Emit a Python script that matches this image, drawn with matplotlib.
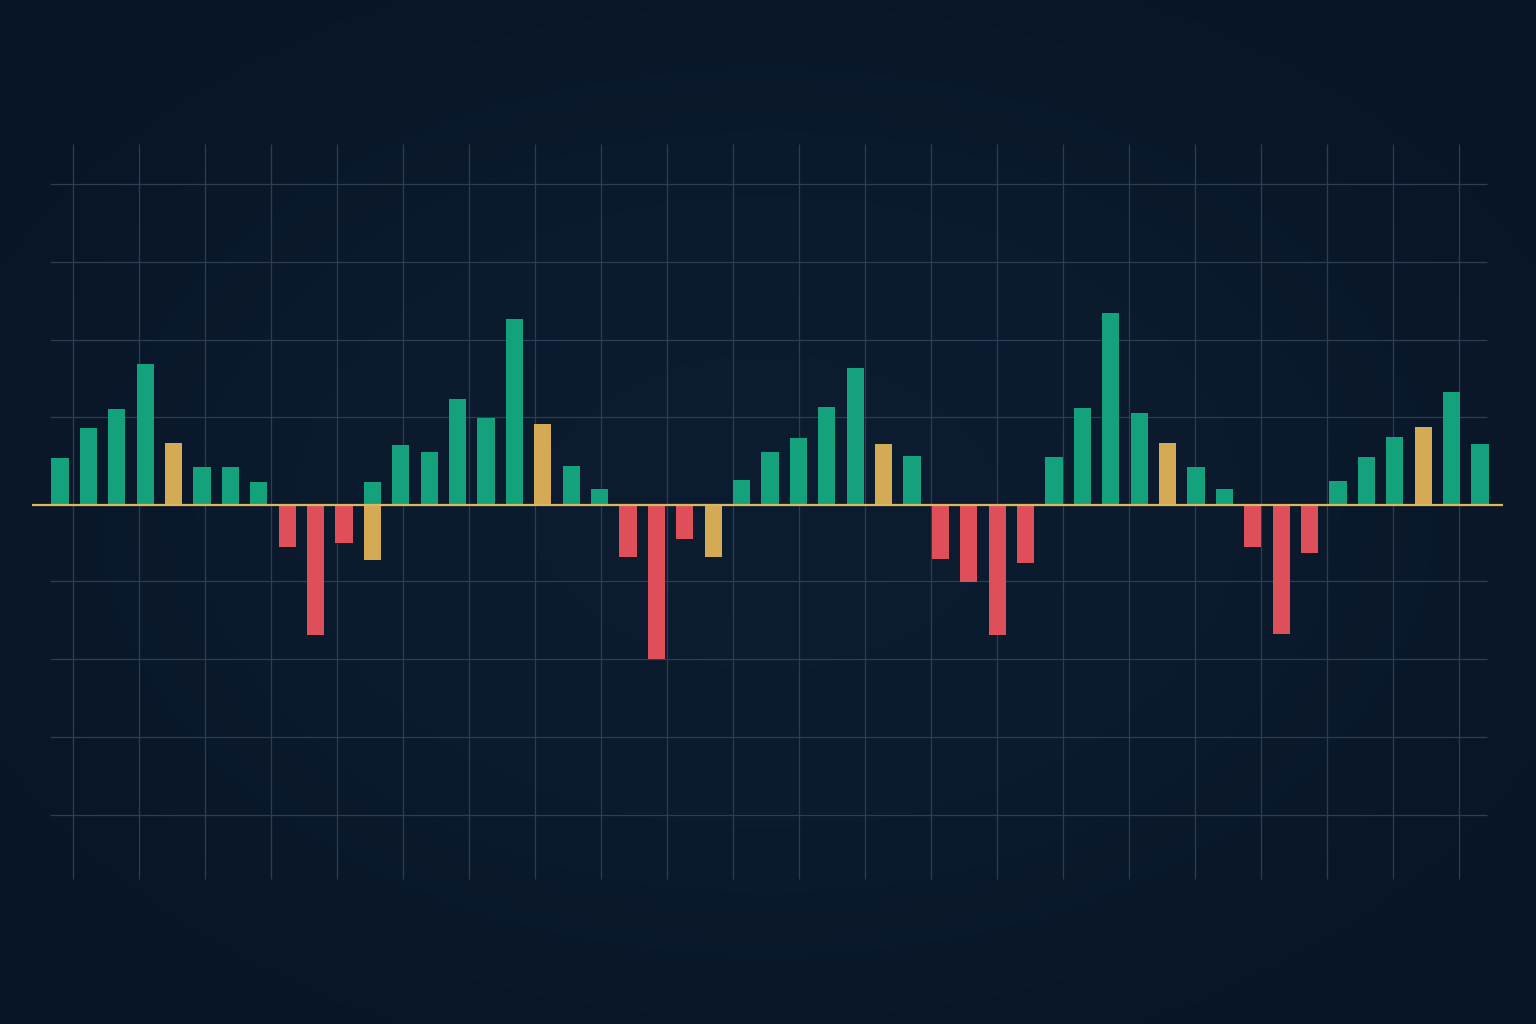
import numpy as np
import matplotlib
matplotlib.use("Agg")
import matplotlib.pyplot as plt
from matplotlib.colors import LinearSegmentedColormap

# ---- data ----
values = [6.06, 9.87, 12.35, 18.12, 7.91, 4.91, 4.91, 2.91, -5.42, -16.71,
          -4.91, 2.99, 7.73, 6.76, 13.55, 11.15, 23.81, 10.35, 5.04, 2.05,
          -6.71, -19.71, -4.36, -6.67, 3.21, 6.79, 8.59, 12.60, 17.56, 7.78,
          6.32, -6.88, -9.88, -16.71, -7.40, 6.12, 12.40, 24.58, 11.76, 7.91,
          4.91, 2.05, -5.38, -16.58, -6.19, 3.08, 6.19, 8.72, 10.00, 14.45, 7.82]
kinds = ['g', 'g', 'g', 'g', 'y', 'g', 'g', 'g', 'r', 'r',
         'r', 'g', 'g', 'g', 'g', 'g', 'g', 'y', 'g', 'g',
         'r', 'r', 'r', 'y', 'g', 'g', 'g', 'g', 'g', 'y',
         'g', 'r', 'r', 'r', 'r', 'g', 'g', 'g', 'g', 'y',
         'g', 'g', 'r', 'r', 'r', 'g', 'g', 'g', 'y', 'g', 'g']
# extra bar drawn at the same slot (below zero)
extra_index = [11]
extra_values = [-7.05]
extra_kinds = ['y']

palette = {'g': '#13a27c', 'y': '#d4aa55', 'r': '#df4f5a'}

# ---- figure ----
W, H = 1536, 1024
fig = plt.figure(figsize=(W / 100, H / 100), dpi=100)
ax = fig.add_axes([0, 0, 1, 1])

# pixel -> data mapping helpers (layout only)
x0_px, dx_px = 60.0, 28.4
zero_px, dy_px = 505.0, 7.8
def px_x(p):
    return (p - x0_px) / dx_px
def px_y(p):
    return (zero_px - p) / dy_px

xmin, xmax = px_x(0), px_x(W)
ymin, ymax = px_y(H), px_y(0)

# background with soft vignette
yy, xx = np.mgrid[0:1:300j, 0:1:450j]
r = np.sqrt(((xx - 0.5) / 0.62) ** 2 + ((yy - 0.5) / 0.62) ** 2)
bg_cmap = LinearSegmentedColormap.from_list('bg', ['#0d1d31', '#0b1a2d', '#081526'])
ax.imshow(np.clip(r, 0, 1), cmap=bg_cmap, vmin=0, vmax=1, aspect='auto',
          extent=[xmin, xmax, ymin, ymax], zorder=0, interpolation='bicubic')

# grid
grid_col = '#2a3f55'
vx = [px_x(73.3 + 66.0 * k) for k in range(22)]
ax.vlines(vx, px_y(879), px_y(144), colors=grid_col, linewidth=0.9, zorder=1)
hy = [px_y(p) for p in [184, 262, 340, 417, 581, 659, 737, 815]]
ax.hlines(hy, px_x(50), px_x(1487), colors=grid_col, linewidth=0.9, zorder=1)

# bars
xs = np.arange(len(values))
ax.bar(xs, values, width=0.6, color=[palette[k] for k in kinds], zorder=3,
       linewidth=0)
ax.bar(extra_index, extra_values, width=0.6,
       color=[palette[k] for k in extra_kinds], zorder=3, linewidth=0)

# zero line
ax.hlines(0, px_x(32), px_x(1503), colors='#dcb85e', linewidth=1.6, zorder=4)

ax.set_xlim(xmin, xmax)
ax.set_ylim(ymin, ymax)
ax.axis('off')

fig.savefig('out.png', dpi=100, facecolor='#0b1a2d')
